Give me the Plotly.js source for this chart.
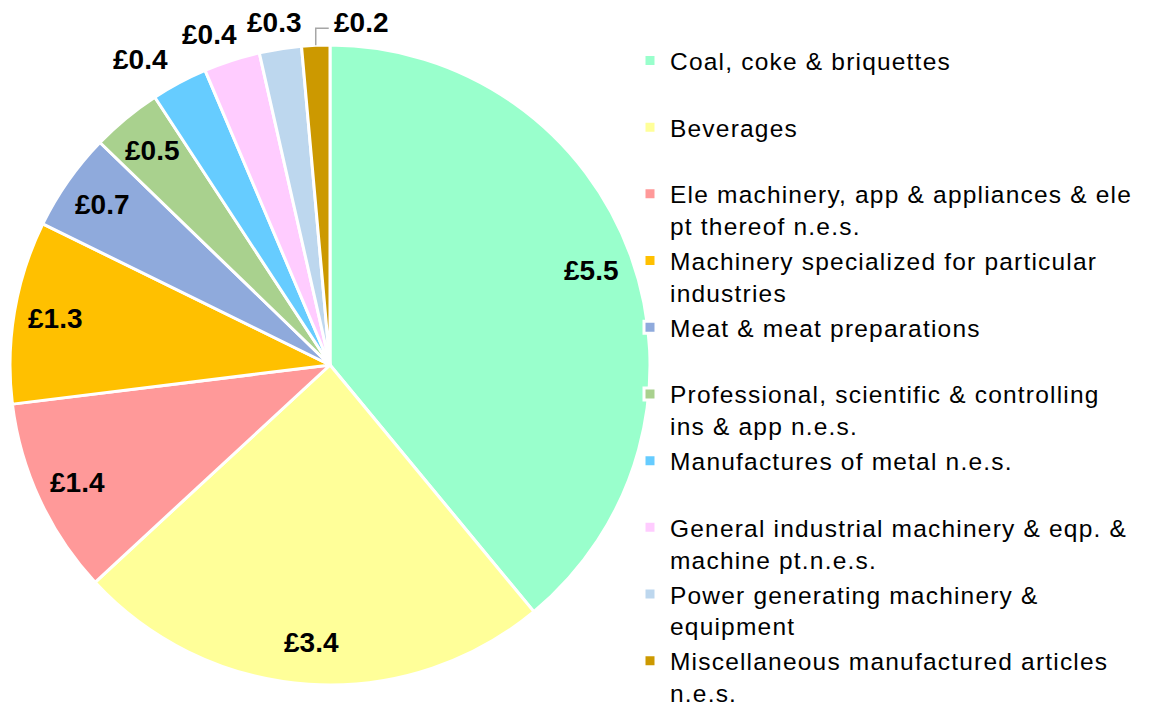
<!DOCTYPE html>
<html>
<head>
<meta charset="utf-8">
<script src="https://cdn.plot.ly/plotly-3.0.1.min.js"></script>
<style>
html,body{margin:0;padding:0;background:#fff;}
#chart{width:1171px;height:716px;}
.legendtext{letter-spacing:1.2px;}
</style>
</head>
<body>
<div id="chart"></div>
<script>
const categories = [
  "Coal, coke & briquettes<br> ",
  "Beverages<br> ",
  "Ele machinery, app & appliances & ele<br>pt thereof n.e.s.",
  "Machinery specialized for particular<br>industries",
  "Meat & meat preparations<br> ",
  "Professional, scientific & controlling<br>ins & app n.e.s.",
  "Manufactures of metal n.e.s.<br> ",
  "General industrial machinery & eqp. &<br>machine pt.n.e.s.",
  "Power generating machinery &<br>equipment",
  "Miscellaneous manufactured articles<br>n.e.s."
];
const values = [5.5, 3.4, 1.4, 1.3, 0.7, 0.5, 0.4, 0.4, 0.3, 0.2];
const colors = ["#99FFCC", "#FFFF99", "#FF9999", "#FFC000", "#8FAADC", "#A9D18E", "#66CCFF", "#FFCCFF", "#BDD7EE", "#CC9900"];
// label placement style per slice: inside, outside, or outside with a leader line
const labelPlacement = ["inside", "inside", "inside", "inside", "inside", "inside", "outside", "outside", "outside", "leader"];

const W = 1171, H = 716;
// pie geometry (pixels) — derived from the domain below
const dom = {x: [10 / W, 650 / W], y: [31 / H, 671 / H]};
const cx = (dom.x[0] + dom.x[1]) / 2 * W;
const cy = (1 - (dom.y[0] + dom.y[1]) / 2) * H;
const R = Math.min((dom.x[1] - dom.x[0]) * W, (dom.y[1] - dom.y[0]) * H) / 2;

const total = values.reduce((a, b) => a + b, 0);
const labelFont = {family: "Liberation Sans, Arial, sans-serif", size: 28, color: "#000000", weight: "bold"};
const annotations = [];
const shapes = [];
let cum = 0;
values.forEach((v, i) => {
  const mid = (cum + v / 2) / total * 2 * Math.PI; // clockwise from 12 o'clock
  cum += v;
  const txt = "£" + v.toFixed(1);
  const sx = Math.sin(mid), cyy = -Math.cos(mid);
  if (labelPlacement[i] === "inside") {
    const r = 0.87 * R;
    annotations.push({x: (cx + r * sx) / W, y: 1 - (cy + r * cyy) / H, xref: "paper", yref: "paper",
      text: txt, showarrow: false, font: labelFont, xanchor: "center", yanchor: "middle"});
  } else if (labelPlacement[i] === "outside") {
    const r = R + 30;
    annotations.push({x: (cx + r * sx) / W, y: 1 - (cy + r * cyy) / H, xref: "paper", yref: "paper",
      text: txt, showarrow: false, font: labelFont, xanchor: "center", yanchor: "middle",
      xshift: 74 * sx + 10, yshift: -3});
  } else {
    const ex = cx + R * sx, ey = cy + R * cyy;
    const ky = ey - 17, kx = ex + 13;
    shapes.push({type: "path", xref: "paper", yref: "paper",
      path: "M " + (ex / W) + "," + (1 - ey / H) + " L " + (ex / W) + "," + (1 - ky / H) + " L " + (kx / W) + "," + (1 - ky / H),
      line: {color: "#A6A6A6", width: 1.5}});
    annotations.push({x: (kx + 3) / W, y: 1 - (ky - 6) / H, xref: "paper", yref: "paper",
      text: txt, showarrow: false, font: labelFont, xanchor: "left", yanchor: "middle"});
  }
});

const trace = {
  type: "pie",
  labels: categories,
  values: values,
  sort: false,
  direction: "clockwise",
  rotation: 0,
  marker: {colors: colors, line: {color: "#FFFFFF", width: 3}},
  textinfo: "none",
  hoverinfo: "label+value",
  domain: dom
};
const layout = {
  width: W, height: H,
  margin: {l: 0, r: 0, t: 0, b: 0},
  paper_bgcolor: "#FFFFFF",
  showlegend: true,
  legend: {
    x: 630 / W, xanchor: "left",
    y: 1 - 40 / H, yanchor: "top",
    valign: "top",
    font: {family: "Liberation Sans, Arial, sans-serif", size: 24.5, color: "#000000"},
    bgcolor: "rgba(0,0,0,0)",
    tracegroupgap: 0
  },
  annotations: annotations,
  shapes: shapes
};
Plotly.newPlot("chart", [trace], layout, {displayModeBar: false, staticPlot: true});
</script>
</body>
</html>
